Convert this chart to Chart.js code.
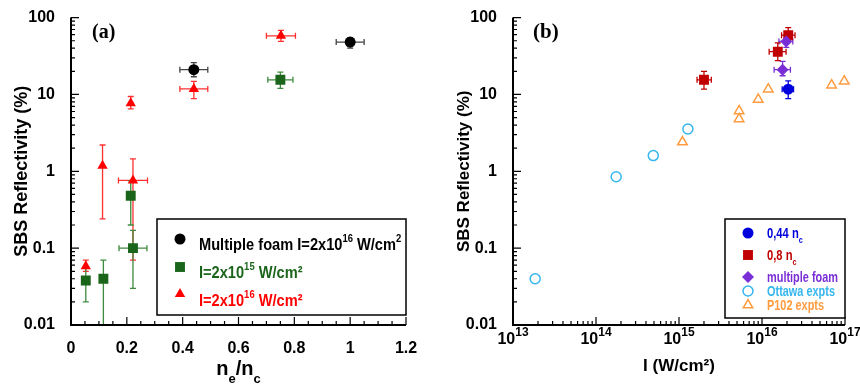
<!DOCTYPE html>
<html>
<head>
<meta charset="utf-8">
<script src="https://cdn.jsdelivr.net/npm/chart.js@4.4.1/dist/chart.umd.min.js"></script>
<style>
html, body { margin: 0; padding: 0; background: #fff; }
#wrap { position: relative; width: 860px; height: 387px; }
.panel { position: absolute; top: 0; width: 430px; height: 387px; }
</style>
</head>
<body>
<div id="wrap">
  <div class="panel" style="left:0"><canvas id="chartA" width="430" height="387"></canvas></div>
  <div class="panel" style="left:430px"><canvas id="chartB" width="430" height="387"></canvas></div>
</div>
<script>
// ---- panel (a): reflectivity vs density ----
const foamDens = [0.44, 1.0];
const foamRefl = [21, 48];
const foamReflLo = [17, 40];
const foamReflHi = [26, 55];
const foamDensErr = [0.05, 0.05];

const lowIDens = [0.053, 0.116, 0.214, 0.222, 0.75];
const lowIRefl = [0.038, 0.04, 0.48, 0.1, 15.5];
const lowIReflLo = [0.02, 0.01, 0.2, 0.03, 12];
const lowIReflHi = [0.055, 0.07, 0.75, 0.17, 19.5];
const lowIDensErr = [0, 0, 0, 0.05, 0.045];

const highIDens = [0.053, 0.113, 0.214, 0.222, 0.44, 0.752];
const highIRefl = [0.058, 1.18, 7.7, 0.76, 11.8, 58];
const highIReflLo = [0.05, 0.24, 6.5, 0.07, 8.8, 49];
const highIReflHi = [0.07, 2.2, 9.4, 1.45, 14.8, 68];
const highIDensErr = [0, 0, 0, 0.052, 0.05, 0.052];

const xTicksA = [0, 0.2, 0.4, 0.6, 0.8, 1, 1.2];
const xTickLabelsA = ['0', '0.2', '0.4', '0.6', '0.8', '1', '1.2'];
const yTicks = [0.01, 0.1, 1, 10, 100];
const yTickLabels = ['0.01', '0.1', '1', '10', '100'];

// ---- panel (b): reflectivity vs intensity ----
const nc044I = [2.07e16];
const nc044Refl = [11.7];
const nc044ReflLo = [8.8];
const nc044ReflHi = [15];
const nc044ILo = [1.75e16];
const nc044IHi = [2.4e16];

const nc08I = [2.0e15, 1.55e16, 2.07e16];
const nc08Refl = [15.5, 36, 59];
const nc08ReflLo = [11.7, 27.5, 49];
const nc08ReflHi = [20, 47, 74];
const nc08ILo = [1.65e15, 1.22e16, 1.72e16];
const nc08IHi = [2.45e15, 1.95e16, 2.5e16];

const multiI = [1.77e16, 1.96e16];
const multiRefl = [21, 49];
const multiReflLo = [17.5, 41];
const multiReflHi = [27, 58];
const multiILo = [1.4e16, 1.6e16];
const multiIHi = [2.2e16, 2.35e16];

const ottawaI = [1.85e13, 1.75e14, 4.9e14, 1.28e15];
const ottawaRefl = [0.04, 0.85, 1.6, 3.55];

const p102I = [1.1e15, 5.3e15, 5.3e15, 9.0e15, 1.19e16, 6.9e16, 9.8e16];
const p102Refl = [2.4, 4.8, 6.1, 8.6, 11.7, 13.2, 14.9];

const xTicksB = [1e13, 1e14, 1e15, 1e16, 1e17];
const xExpB = ['13', '14', '15', '16', '17'];

const LS = "'Liberation Sans', Arial, sans-serif";

function pts(xs, ys) {
    return xs.map((x, i) => ({ x: x, y: ys[i] }));
}

// minor tick positions for log axes
function logMinors(lo, hi) {
    const out = [];
    for (let d = lo; d < hi; d++) {
        for (let k = 2; k <= 9; k++) out.push(k * Math.pow(10, d));
    }
    return out;
}

// draw bold text pieces (super/subscripts), optionally squeezed horizontally
function richText(ctx, parts, x, y, size, sx, color, dry) {
    ctx.save();
    ctx.translate(x, y);
    ctx.scale(sx, 1);
    ctx.fillStyle = color;
    ctx.textAlign = 'left';
    ctx.textBaseline = 'alphabetic';
    let cx = 0;
    parts.forEach(p => {
        ctx.font = 'bold ' + (p.size || size) + 'px ' + LS;
        if (!dry) ctx.fillText(p.t, cx, p.dy || 0);
        cx += ctx.measureText(p.t).width;
    });
    ctx.restore();
    return cx * sx;
}

function marker(ctx, style, x, y, r, fill, stroke, bw) {
    ctx.save();
    ctx.fillStyle = fill;
    ctx.strokeStyle = stroke;
    ctx.lineWidth = bw;
    Chart.helpers.drawPoint(ctx, { pointStyle: style, radius: r, rotation: 0, borderWidth: bw }, x, y);
    ctx.restore();
}

const errorBars = {
    id: 'errorBars',
    beforeDatasetsDraw(chart) {
        const ctx = chart.ctx;
        const xs = chart.scales.x, ys = chart.scales.y;
        const cap = 3;
        chart.data.datasets.forEach(ds => {
            if (!ds.err) return;
            ctx.save();
            ctx.strokeStyle = ds.err.color;
            ctx.lineWidth = 1.3;
            ctx.beginPath();
            ds.data.forEach((p, i) => {
                const px = xs.getPixelForValue(p.x);
                const py = ys.getPixelForValue(p.y);
                if (ds.err.yLo) {
                    const y1 = ys.getPixelForValue(ds.err.yLo[i]);
                    const y2 = ys.getPixelForValue(ds.err.yHi[i]);
                    ctx.moveTo(px, y1); ctx.lineTo(px, y2);
                    ctx.moveTo(px - cap, y1); ctx.lineTo(px + cap, y1);
                    ctx.moveTo(px - cap, y2); ctx.lineTo(px + cap, y2);
                }
                if (ds.err.xLo && ds.err.xLo[i] !== ds.err.xHi[i]) {
                    const x1 = xs.getPixelForValue(ds.err.xLo[i]);
                    const x2 = xs.getPixelForValue(ds.err.xHi[i]);
                    ctx.moveTo(x1, py); ctx.lineTo(x2, py);
                    ctx.moveTo(x1, py - cap); ctx.lineTo(x1, py + cap);
                    ctx.moveTo(x2, py - cap); ctx.lineTo(x2, py + cap);
                }
            });
            ctx.stroke();
            ctx.restore();
        });
    }
};

// axis lines with inward ticks
const frame = {
    id: 'frame',
    afterDatasetsDraw(chart, args, o) {
        const ctx = chart.ctx, a = chart.chartArea;
        const xs = chart.scales.x, ys = chart.scales.y;
        ctx.save();
        ctx.strokeStyle = '#000';
        ctx.lineWidth = 1.2;
        ctx.beginPath();
        o.xMajor.forEach(v => { const p = xs.getPixelForValue(v); ctx.moveTo(p, a.bottom); ctx.lineTo(p, a.bottom - 8); });
        o.xMinor.forEach(v => { const p = xs.getPixelForValue(v); ctx.moveTo(p, a.bottom); ctx.lineTo(p, a.bottom - 4); });
        o.yMajor.forEach(v => { const p = ys.getPixelForValue(v); ctx.moveTo(a.left, p); ctx.lineTo(a.left + 8, p); });
        o.yMinor.forEach(v => { const p = ys.getPixelForValue(v); ctx.moveTo(a.left, p); ctx.lineTo(a.left + 4, p); });
        ctx.stroke();
        ctx.lineWidth = 2;
        ctx.beginPath();
        ctx.moveTo(a.left, a.top);
        ctx.lineTo(a.left, a.bottom);
        ctx.lineTo(a.right, a.bottom);
        ctx.stroke();
        ctx.restore();
    }
};

const extrasA = {
    id: 'extrasA',
    afterDraw(chart) {
        const ctx = chart.ctx, a = chart.chartArea;
        // panel tag
        ctx.save();
        ctx.font = "bold 20px 'Liberation Serif', 'Times New Roman', serif";
        ctx.fillStyle = '#000';
        ctx.textBaseline = 'middle';
        ctx.fillText('(a)', 92, 33);
        ctx.restore();
        // x title n_e/n_c
        const title = [{ t: 'n' }, { t: 'e', size: 13, dy: 8 }, { t: '/n' }, { t: 'c', size: 13, dy: 8 }];
        const w = richText(ctx, title, 0, 0, 20, 1, '#000', true);
        richText(ctx, title, (a.left + a.right) / 2 - w / 2, 375, 20, 1, '#000');
        // legend
        ctx.save();
        ctx.fillStyle = '#fff';
        ctx.fillRect(157, 219, 249, 96);
        ctx.strokeStyle = '#000';
        ctx.lineWidth = 1.5;
        ctx.strokeRect(157, 219, 249, 96);
        ctx.restore();
        marker(ctx, 'circle', 180, 239, 5.5, '#000', '#000', 0);
        marker(ctx, 'rect', 180, 267, 7, '#1b651b', '#1b651b', 0);
        marker(ctx, 'triangle', 180, 294, 6, '#ff0000', '#ff0000', 0);
        richText(ctx, [{ t: 'Multiple foam I=2x10' }, { t: '16', size: 11, dy: -8 }, { t: ' W/cm' }, { t: '2', size: 11, dy: -8 }], 199, 250, 17, 0.86, '#000');
        richText(ctx, [{ t: 'I=2x10' }, { t: '15', size: 11, dy: -8 }, { t: ' W/cm\u00b2' }], 199, 278, 17, 0.86, '#1b651b');
        richText(ctx, [{ t: 'I=2x10' }, { t: '16', size: 11, dy: -8 }, { t: ' W/cm\u00b2' }], 199, 306, 17, 0.86, '#ff0000');
    }
};

const extrasB = {
    id: 'extrasB',
    afterDraw(chart) {
        const ctx = chart.ctx, a = chart.chartArea;
        const xs = chart.scales.x;
        ctx.save();
        ctx.font = "bold 21px 'Liberation Serif', 'Times New Roman', serif";
        ctx.fillStyle = '#000';
        ctx.textBaseline = 'middle';
        ctx.fillText('(b)', 103, 33);
        ctx.restore();
        // power-of-ten tick labels
        xTicksB.forEach((v, i) => {
            const parts = [{ t: '10' }, { t: xExpB[i], size: 12, dy: -8 }];
            const w = richText(ctx, parts, 0, 0, 16, 1, '#000', true);
            richText(ctx, parts, xs.getPixelForValue(v) - w / 2, 344, 16, 1, '#000');
        });
        // legend
        ctx.save();
        ctx.fillStyle = '#fff';
        ctx.fillRect(295, 219, 120, 99);
        ctx.strokeStyle = '#000';
        ctx.lineWidth = 1.5;
        ctx.strokeRect(295, 219, 120, 99);
        ctx.restore();
        marker(ctx, 'circle', 318, 233, 5.5, '#0000dd', '#0000dd', 0);
        marker(ctx, 'rect', 318, 255, 7, '#c00000', '#c00000', 0);
        marker(ctx, 'rectRot', 318, 277, 6, '#7a2fd6', '#7a2fd6', 0);
        marker(ctx, 'circle', 318, 291, 5, 'rgba(255,255,255,0)', '#35b6ee', 1.5);
        marker(ctx, 'triangle', 318, 305, 5.5, 'rgba(255,255,255,0)', '#ff9c40', 1.5);
        richText(ctx, [{ t: '0,44 n' }, { t: 'c', size: 9, dy: 5 }], 337, 238, 14, 0.8, '#0000dd');
        richText(ctx, [{ t: '0,8 n' }, { t: 'c', size: 9, dy: 5 }], 337, 260, 14, 0.8, '#c00000');
        richText(ctx, [{ t: 'multiple foam' }], 337, 282, 14, 0.78, '#7a2fd6');
        richText(ctx, [{ t: 'Ottawa expts' }], 337, 296, 14, 0.78, '#35b6ee');
        richText(ctx, [{ t: 'P102 expts' }], 337, 310, 14, 0.78, '#ff9c40');
    }
};

function yScale(width, titleSize, titlePad) {
    return {
        type: 'logarithmic',
        min: 0.01,
        max: 100,
        grid: { display: false },
        border: { display: false },
        afterBuildTicks: s => { s.ticks = yTicks.map(v => ({ value: v })); },
        afterFit: s => { s.width = width; },
        ticks: {
            callback: (v, i) => yTickLabels[i],
            font: { family: LS, size: 16, weight: 'bold' },
            color: '#000',
            padding: 8,
            autoSkip: false
        },
        title: {
            display: true,
            text: 'SBS Reflectivity (%)',
            color: '#000',
            font: { family: LS, size: titleSize, weight: 'bold' },
            padding: { top: titlePad, bottom: 0 }
        }
    };
}

const minorA = [];
for (let v = 0.05; v < 1.2; v += 0.05) minorA.push(Math.round(v * 100) / 100);

const chartA = new Chart(document.getElementById('chartA'), {
    type: 'scatter',
    data: {
        datasets: [{
            label: 'Multiple foam I=2x10^16 W/cm2',
            data: pts(foamDens, foamRefl),
            pointStyle: 'circle',
            pointRadius: 5.5,
            backgroundColor: '#000',
            borderWidth: 0,
            err: {
                color: '#444',
                yLo: foamReflLo, yHi: foamReflHi,
                xLo: foamDens.map((d, i) => d - foamDensErr[i]),
                xHi: foamDens.map((d, i) => d + foamDensErr[i])
            }
        }, {
            label: 'I=2x10^16 W/cm2',
            data: pts(highIDens, highIRefl),
            pointStyle: 'triangle',
            pointRadius: 6,
            backgroundColor: '#ff0000',
            borderWidth: 0,
            err: {
                color: '#ff3030',
                yLo: highIReflLo, yHi: highIReflHi,
                xLo: highIDens.map((d, i) => d - highIDensErr[i]),
                xHi: highIDens.map((d, i) => d + highIDensErr[i])
            }
        }, {
            label: 'I=2x10^15 W/cm2',
            data: pts(lowIDens, lowIRefl),
            pointStyle: 'rect',
            pointRadius: 7,
            backgroundColor: '#1b651b',
            borderWidth: 0,
            err: {
                color: '#3f8a3f',
                yLo: lowIReflLo, yHi: lowIReflHi,
                xLo: lowIDens.map((d, i) => d - lowIDensErr[i]),
                xHi: lowIDens.map((d, i) => d + lowIDensErr[i])
            }
        }]
    },
    options: {
        responsive: false,
        animation: false,
        layout: { padding: { left: 0, top: 17, right: 24, bottom: 0 } },
        plugins: {
            legend: { display: false },
            tooltip: { enabled: false },
            frame: { xMajor: xTicksA, xMinor: minorA, yMajor: yTicks, yMinor: logMinors(-2, 2) }
        },
        scales: {
            x: {
                type: 'linear',
                min: 0,
                max: 1.2,
                grid: { display: false },
                border: { display: false },
                afterBuildTicks: s => { s.ticks = xTicksA.map(v => ({ value: v })); },
                afterFit: s => { s.height = 62; },
                ticks: {
                    callback: (v, i) => xTickLabelsA[i],
                    font: { family: LS, size: 16, weight: 'bold' },
                    color: '#000',
                    padding: 6,
                    maxRotation: 0,
                    autoSkip: false
                }
            },
            y: yScale(71, 18, 11)
        }
    },
    plugins: [errorBars, frame, extrasA]
});

const chartB = new Chart(document.getElementById('chartB'), {
    type: 'scatter',
    data: {
        datasets: [{
            label: '0,44 nc',
            data: pts(nc044I, nc044Refl),
            pointStyle: 'circle',
            pointRadius: 5.5,
            backgroundColor: '#0000dd',
            borderWidth: 0,
            err: { color: '#0000dd', yLo: nc044ReflLo, yHi: nc044ReflHi, xLo: nc044ILo, xHi: nc044IHi }
        }, {
            label: 'multiple foam',
            data: pts(multiI, multiRefl),
            pointStyle: 'rectRot',
            pointRadius: 6,
            backgroundColor: '#7a2fd6',
            borderWidth: 0,
            err: { color: '#7a2fd6', yLo: multiReflLo, yHi: multiReflHi, xLo: multiILo, xHi: multiIHi }
        }, {
            label: '0,8 nc',
            data: pts(nc08I, nc08Refl),
            pointStyle: 'rect',
            pointRadius: 7,
            backgroundColor: '#c00000',
            borderWidth: 0,
            err: { color: '#c00000', yLo: nc08ReflLo, yHi: nc08ReflHi, xLo: nc08ILo, xHi: nc08IHi }
        }, {
            label: 'Ottawa expts',
            data: pts(ottawaI, ottawaRefl),
            pointStyle: 'circle',
            pointRadius: 5,
            backgroundColor: 'rgba(255,255,255,0)',
            borderColor: '#35b6ee',
            borderWidth: 1.5
        }, {
            label: 'P102 expts',
            data: pts(p102I, p102Refl),
            pointStyle: 'triangle',
            pointRadius: 5.5,
            backgroundColor: 'rgba(255,255,255,0)',
            borderColor: '#ff9c40',
            borderWidth: 1.5,
            clip: false
        }]
    },
    options: {
        responsive: false,
        animation: false,
        layout: { padding: { left: 0, top: 17, right: 15, bottom: 0 } },
        plugins: {
            legend: { display: false },
            tooltip: { enabled: false },
            frame: { xMajor: xTicksB, xMinor: logMinors(13, 17), yMajor: yTicks, yMinor: logMinors(-2, 2) }
        },
        scales: {
            x: {
                type: 'logarithmic',
                min: 1e13,
                max: 1e17,
                grid: { display: false },
                border: { display: false },
                afterBuildTicks: s => { s.ticks = xTicksB.map(v => ({ value: v })); },
                afterFit: s => { s.height = 62; },
                ticks: { display: false },
                title: {
                    display: true,
                    text: 'I (W/cm\u00b2)',
                    color: '#000',
                    font: { family: LS, size: 17, weight: 'bold' },
                    padding: { top: 0, bottom: 10 }
                }
            },
            y: yScale(83, 17, 24)
        }
    },
    plugins: [errorBars, frame, extrasB]
});
</script>
</body>
</html>
